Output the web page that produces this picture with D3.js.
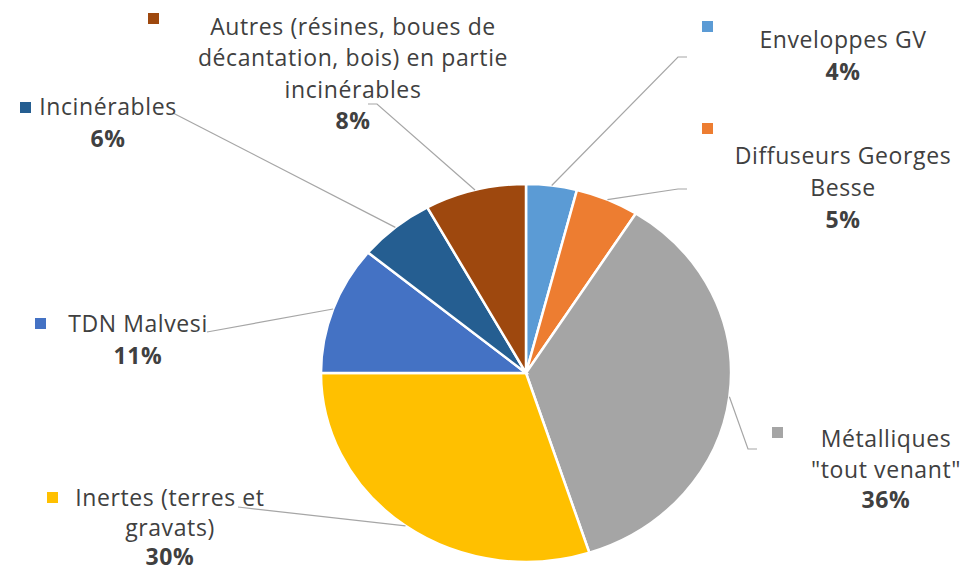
<!DOCTYPE html>
<html>
<head>
<meta charset="utf-8">
<script src="https://cdn.jsdelivr.net/npm/d3@7"></script>
<style>
  html, body { margin: 0; padding: 0; background: #fff; }
  svg { display: block; }
</style>
</head>
<body>
<div id="chart"></div>
<script>
// Data
const categories = [
    'Enveloppes GV',
    'Diffuseurs Georges Besse',
    'Métalliques "tout venant"',
    'Inertes (terres et gravats)',
    'TDN Malvesi',
    'Incinérables',
    'Autres (résines, boues de décantation, bois) en partie incinérables'
];
const shares = [4, 5, 36, 30, 11, 6, 8];
const labelLines = [
    ['Enveloppes GV'],
    ['Diffuseurs Georges', 'Besse'],
    ['Métalliques', '"tout venant"'],
    ['Inertes (terres et', 'gravats)'],
    ['TDN Malvesi'],
    ['Incinérables'],
    ['Autres (résines, boues de', 'décantation, bois) en partie', 'incinérables']
];
const colors = ['#5b9bd5', '#ed7d31', '#a5a5a5', '#ffc000', '#4472c4', '#255e91', '#9e480e'];

// Label layout (placement of each data label box)
const labelLayout = [
    { cx: 843, y: 48,  lh: 31.5, marker: [702, 21],  leader: [[678, 57], [687, 57]] },
    { cx: 843, y: 164, lh: 32,   marker: [702, 123], leader: [[678, 189], [687, 189]] },
    { cx: 886, y: 447, lh: 30.5, marker: [772, 427], leader: [[748, 449], [757, 449]] },
    { cx: 170, y: 506, lh: 29.5, marker: [47, 492],  leader: [[238, 507]] },
    { cx: 138, y: 332, lh: 32,   marker: [35, 318],  leader: [[207, 332]] },
    { cx: 108, y: 115, lh: 31.5, marker: [20, 102],  leader: [[173, 113]] },
    { cx: 353, y: 35,  lh: 31.3, marker: [148, 13],  leader: [[377, 104], [368, 104]] }
];

const W = 976, H = 573;
const cx = 526, cy = 373;
const ry = 189, rx = 205;   // pie is drawn slightly stretched horizontally

const svg = d3.select('#chart')
    .append('svg')
    .attr('width', W)
    .attr('height', H);

const data = categories.map((c, i) => ({ name: c, value: shares[i], i }));

const pie = d3.pie()
    .value(d => d.value)
    .sort(null);

const arcs = pie(data);

const arc = d3.arc()
    .innerRadius(0)
    .outerRadius(ry);

// slices
svg.append('g')
    .attr('transform', `translate(${cx},${cy}) scale(${rx / ry},1)`)
    .selectAll('path')
    .data(arcs)
    .enter()
    .append('path')
    .attr('d', arc)
    .attr('fill', d => colors[d.data.i])
    .attr('stroke', '#fff')
    .attr('stroke-width', 2.5)
    .attr('vector-effect', 'non-scaling-stroke');

// leader lines: from slice mid-angle on the rim to the label
const line = d3.line();
svg.append('g')
    .selectAll('path')
    .data(arcs)
    .enter()
    .append('path')
    .attr('d', d => {
        const a = (d.startAngle + d.endAngle) / 2;
        const p0 = [cx + rx * Math.sin(a), cy - ry * Math.cos(a)];
        return line([p0, ...labelLayout[d.data.i].leader]);
    })
    .attr('fill', 'none')
    .attr('stroke', '#a6a6a6')
    .attr('stroke-width', 1.2);

// labels
const lab = svg.append('g')
    .selectAll('g')
    .data(data)
    .enter()
    .append('g');

lab.append('rect')
    .attr('x', d => labelLayout[d.i].marker[0])
    .attr('y', d => labelLayout[d.i].marker[1])
    .attr('width', 11)
    .attr('height', 11)
    .attr('fill', d => colors[d.i]);

lab.each(function (d) {
    const L = labelLayout[d.i];
    const t = d3.select(this).append('text')
        .attr('text-anchor', 'middle')
        .style('font-family', '"Open Sans", sans-serif')
        .style('font-size', '23px')
        .style('letter-spacing', '0.6px')
        .attr('fill', '#404040');
    const lines = labelLines[d.i];
    lines.forEach((s, k) => {
        t.append('tspan')
            .attr('x', L.cx)
            .attr('y', L.y + k * L.lh)
            .text(s);
    });
    t.append('tspan')
        .attr('x', L.cx)
        .attr('y', L.y + lines.length * L.lh)
        .style('font-weight', 'bold')
        .text(d3.format('.0%')(d.value / d3.sum(shares)));
});
</script>
</body>
</html>
